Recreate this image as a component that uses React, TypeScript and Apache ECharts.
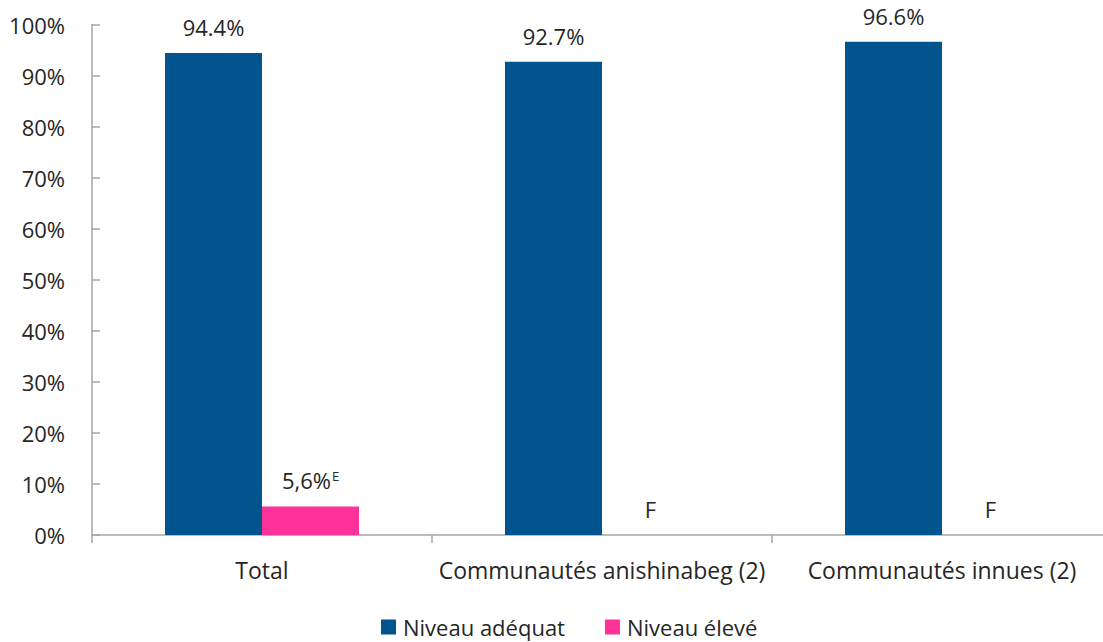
import React, { useEffect, useRef } from "react";
import * as echarts from "echarts";

// Categories and values
const categories = ["Total", "Communautés anishinabeg (2)", "Communautés innues (2)"];
const seriesNames = ["Niveau adéquat", "Niveau élevé"];
const adequateValues = [94.4, 92.7, 96.6];
const adequateLabels = ["94.4%", "92.7%", "96.6%"];
const highValues = [5.6, 0, 0];
const highLabels = ["5,6%", "F", "F"];
const highSuperscripts = ["E", "", ""];
const yTicks = [0, 10, 20, 30, 40, 50, 60, 70, 80, 90, 100];

const BLUE = "#02548e";
const PINK = "#fe3399";
const TEXT = "#262626";
const AXIS = "#a6a6a6";
const FONT = "'Open Sans', 'Noto Sans', sans-serif";
const FS = 22;

export default function App() {
  const ref = useRef<HTMLDivElement>(null);

  useEffect(() => {
    if (!ref.current) return;
    const chart = echarts.init(ref.current, undefined, { renderer: "svg" });
    chart.setOption({
      animation: false,
      textStyle: { fontFamily: FONT, color: TEXT },
      grid: { left: 92, right: 0, top: 24.5, bottom: 107, containLabel: false },
      legend: {
        bottom: 4,
        left: 381,
        padding: 0,
        icon: "rect",
        itemWidth: 15,
        itemHeight: 15,
        itemGap: 40,
        textStyle: { fontFamily: FONT, fontSize: FS, color: TEXT, padding: [0, 0, 0, 2] },
        data: seriesNames,
      },
      xAxis: {
        type: "category",
        data: categories,
        axisLine: { lineStyle: { color: AXIS, width: 1.5 } },
        axisTick: { show: true, interval: 0, length: 8, lineStyle: { color: AXIS, width: 1.5 } },
        axisLabel: { interval: 0, fontFamily: FONT, fontSize: 23, color: TEXT, margin: 23 },
      },
      yAxis: {
        type: "value",
        min: yTicks[0],
        max: yTicks[yTicks.length - 1],
        interval: 10,
        axisLine: { show: true, lineStyle: { color: AXIS, width: 1.5 } },
        axisTick: { show: true, inside: true, length: 8, lineStyle: { color: AXIS, width: 1.5 } },
        splitLine: { show: false },
        axisLabel: {
          fontFamily: FONT,
          fontSize: FS,
          color: TEXT,
          margin: 27,
          formatter: (v: number) => `${v}%`,
        },
      },
      series: [
        {
          name: seriesNames[0],
          type: "bar",
          data: adequateValues,
          barWidth: 97,
          barGap: "0%",
          itemStyle: { color: BLUE },
          label: {
            show: true,
            position: "top",
            distance: 15,
            fontFamily: FONT,
            fontSize: FS,
            color: TEXT,
            formatter: (p: any) => adequateLabels[p.dataIndex],
          },
        },
        {
          name: seriesNames[1],
          type: "bar",
          data: highValues,
          barWidth: 97,
          barGap: "0%",
          itemStyle: { color: PINK },
          label: {
            show: true,
            position: "top",
            distance: 15,
            fontFamily: FONT,
            fontSize: FS,
            color: TEXT,
            formatter: (p: any) => {
              const sup = highSuperscripts[p.dataIndex];
              return sup ? `{m|${highLabels[p.dataIndex]}}{s|${sup}}` : `{m|${highLabels[p.dataIndex]}}`;
            },
            rich: {
              m: { fontFamily: FONT, fontSize: FS, color: TEXT },
              s: { fontFamily: FONT, fontSize: 13, color: TEXT, verticalAlign: "top", padding: [0, 0, 5, 1] },
            },
          },
        },
      ],
    });
    return () => chart.dispose();
  }, []);

  return (
    <div
      ref={ref}
      style={{ position: "fixed", left: 0, top: 0, width: 1112, height: 642, background: "#fff" }}
    />
  );
}
